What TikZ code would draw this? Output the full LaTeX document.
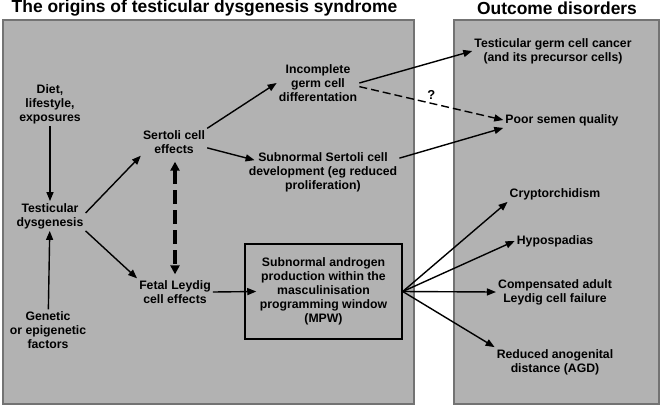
\documentclass[tikz,border=0pt]{standalone}
\usepackage{fontspec}
\setmainfont{Liberation Sans}
\usepackage{tikz}
\usetikzlibrary{positioning, arrows.meta}

\begin{document}
\begin{tikzpicture}[
    x=1bp, y=-1bp,
    panel/.style={draw=black!55, line width=1.3bp, fill=black!30},
    heading/.style={font=\fontsize{17.5}{20}\selectfont\bfseries, inner sep=0pt},
    txt/.style={align=center, font=\fontsize{12.3}{14}\selectfont\bfseries, inner sep=2bp},
    mpwbox/.style={txt, draw, line width=1.5bp, minimum width=157bp, minimum height=95bp},
    arr/.style={-{Triangle[length=9bp, width=7bp]}, line width=1.4bp},
    darr/.style={arr, dash pattern=on 8bp off 4bp},
    thickdarr/.style={{Triangle[length=9bp, width=9bp]}-{Triangle[length=9bp, width=9bp]}, line width=3.5bp, dash pattern=on 14bp off 6bp},
    qmark/.style={font=\fontsize{13}{15}\selectfont\bfseries, inner sep=1bp},
]
\useasboundingbox (0,0) rectangle (662,407);
\filldraw[panel] (3,20) rectangle (414,404);
\filldraw[panel] (454,20) rectangle (659,404);

\node[heading] (ttlorig) at (204.5,8.5) {The origins of testicular dysgenesis syndrome};
\node[heading] (ttlout) at (557,8.5) {Outcome disorders};

\node[txt] (diet) at (50,104) {Diet,\\lifestyle,\\exposures};
\node[txt] (testdys) at (50,216) {Testicular\\dysgenesis};
\node[txt] (genetic) at (48,330) {Genetic\\or epigenetic\\factors};
\node[txt] (sertoli) at (174,142) {Sertoli cell\\effects};
\node[txt] (leydig) at (175,292) {Fetal Leydig\\cell effects};
\node[txt] (germ) at (318,83) {Incomplete\\germ cell\\differentation};
\node[txt] (subsert) at (323,172) {Subnormal Sertoli cell\\development (eg reduced\\proliferation)};
\node[mpwbox] (mpw) at (323.5,291.5) {Subnormal androgen\\production within the\\masculinisation\\programming window\\(MPW)};

\node[txt] (cancer) at (553,51) {Testicular germ cell cancer\\(and its precursor cells)};
\node[txt] (semen) at (562,120) {Poor semen quality};
\node[txt] (crypt) at (555,194) {Cryptorchidism};
\node[txt] (hypo) at (555,241) {Hypospadias};
\node[txt] (comp) at (555,292) {Compensated adult\\Leydig cell failure};
\node[txt] (agd) at (555,362) {Reduced anogenital\\distance (AGD)};

\draw[arr] (diet) -- (testdys);
\draw[arr] (genetic) -- (testdys);
\draw[arr] ([yshift=3bp]testdys.east) -- (sertoli.south west);
\draw[arr] (testdys.south east) -- (leydig.north west);
\draw[arr] (sertoli.north east) -- (germ.west);
\draw[arr] (sertoli.-10) -- ([xshift=8bp,yshift=-10bp]subsert.north west);
\draw[thickdarr, shorten <=6bp, shorten >=4bp] ([xshift=1bp]sertoli.south) -- (leydig.north);
\draw[arr] (leydig.east) -- ([xshift=12bp]mpw.west);
\draw[arr] (germ.east) -- (cancer.west);
\draw[darr] (germ.-5) -- node[qmark, above=2bp] (q) {?} (semen.west);
\draw[arr] ([yshift=-8bp]subsert.north east) -- (semen.south west);
\draw[arr] (mpw.east) -- (crypt.south west);
\draw[arr] (mpw.east) -- (hypo.west);
\draw[arr] (mpw.east) -- (comp.west);
\draw[arr] (mpw.east) -- (agd.north west);
\end{tikzpicture}
\end{document}
